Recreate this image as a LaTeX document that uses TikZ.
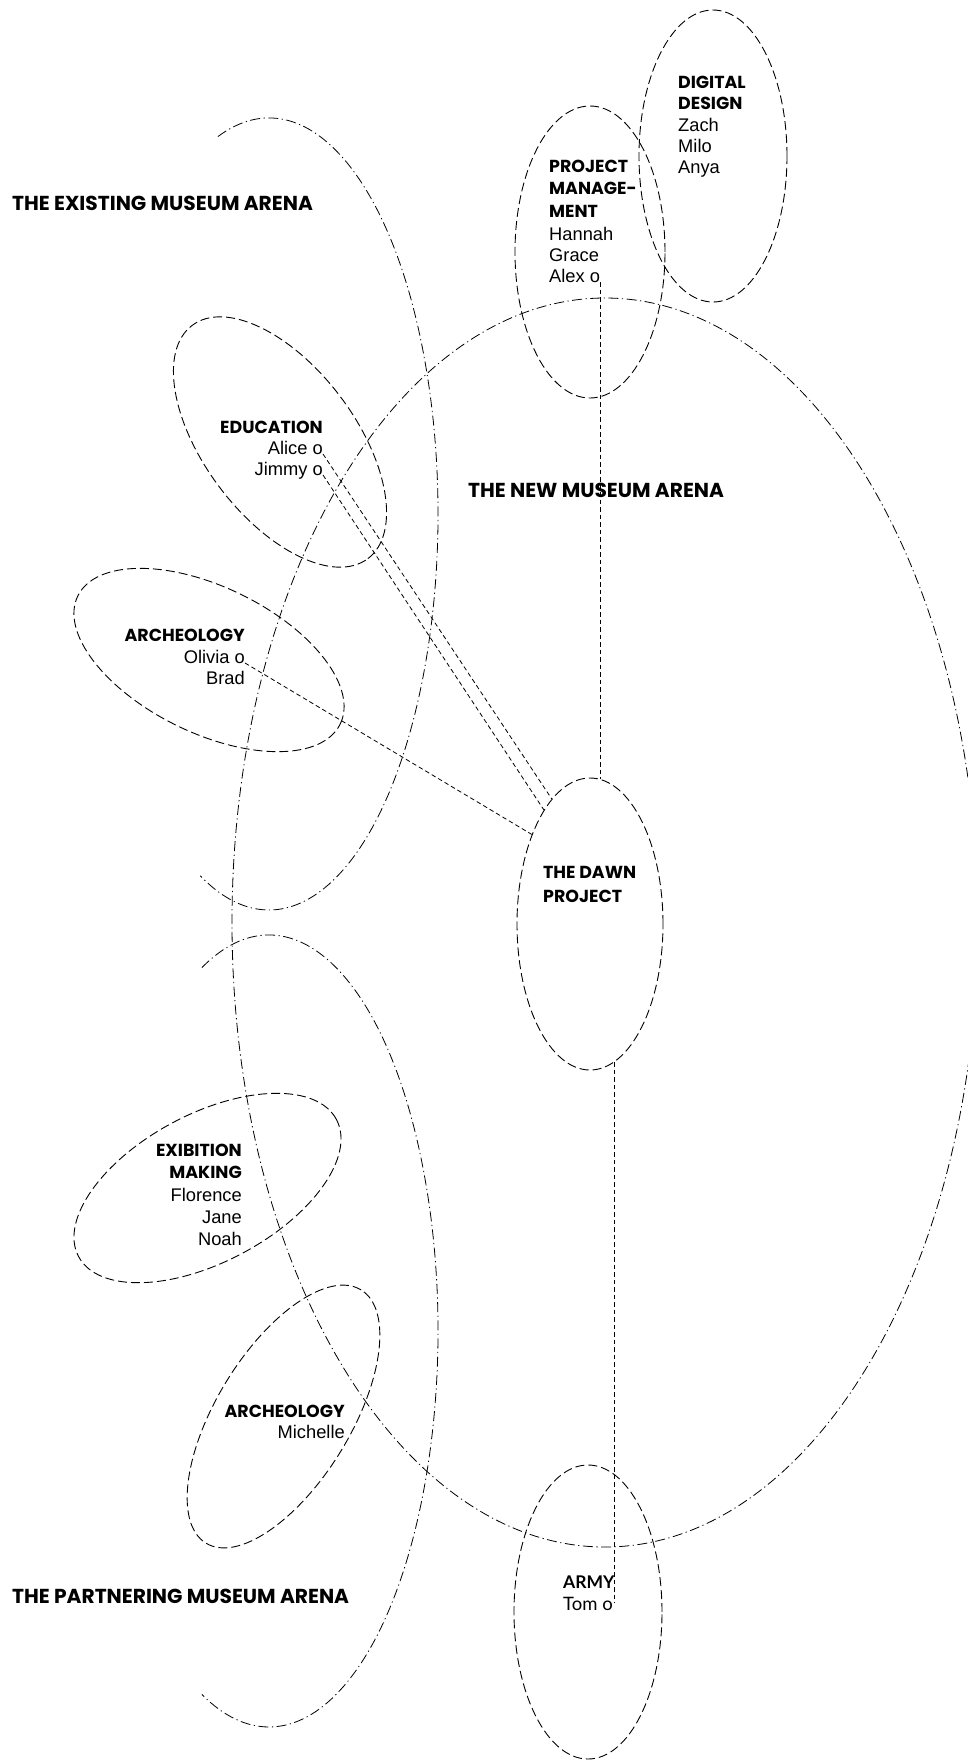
\documentclass[tikz,border=0pt]{standalone}
\usepackage{fontspec}
\usetikzlibrary{shapes.geometric}
\newfontfamily\gothic{Poppins}
\newfontfamily\arial{Liberation Sans}
\newfontfamily\gill{Lato}
\tikzset{
  grp/.style={ellipse, draw, dash pattern=on 9pt off 4pt, line width=0.9pt, inner sep=0pt},
  link/.style={draw, dash pattern=on 4.5pt off 3pt, line width=0.8pt},
  arena/.style={draw, dash pattern=on 10pt off 3.5pt on 1.2pt off 3.5pt, line width=0.8pt},
  head/.style={inner sep=0pt, font=\gothic\bfseries\fontsize{20.2}{20}\selectfont},
  lab/.style={inner sep=0pt, font=\gothic\bfseries\fontsize{17.4}{17}\selectfont},
  nm/.style={inner sep=0pt, font=\arial\fontsize{18.3}{18}\selectfont},
  gl/.style={inner sep=0pt, font=\gill\bfseries\fontsize{17.5}{17}\selectfont},
  gn/.style={inner sep=0pt, font=\gill\fontsize{18.5}{18}\selectfont},
}
\begin{document}
\begin{tikzpicture}[x=1pt,y=1pt]
\useasboundingbox (0,0) rectangle (967,-1762);
% arenas
\draw[arena] (605,-922.5) ellipse [x radius=373, y radius=624.5];
\draw[arena] (269,-514) ++(107.6:169 and 396) arc[start angle=107.6, end angle=-114, x radius=169, y radius=396];
\draw[arena] (269,-1331) ++(113.4:169 and 396) arc[start angle=113.4, end angle=-113.4, x radius=169, y radius=396];
% group ellipses
\node[grp, minimum width=148pt, minimum height=292pt] (digital) at (713,-156) {};
\node[grp, minimum width=150pt, minimum height=292pt] (pm) at (590,-252) {};
\node[grp, minimum width=146pt, minimum height=292pt] (dawn) at (590,-924) {};
\node[grp, minimum width=148pt, minimum height=294pt] (army) at (588,-1612) {};
\node[grp, rotate=-53, minimum width=292pt, minimum height=151pt] (edu) at (280,-442) {};
\node[grp, rotate=-26, minimum width=292pt, minimum height=146pt] (archA) at (209,-660) {};
\node[grp, rotate=28, minimum width=292pt, minimum height=148pt] (exib) at (207.5,-1188) {};
\node[grp, rotate=58.5, minimum width=297pt, minimum height=134pt] (archB) at (283.5,-1416.5) {};
% headings
\node[head, anchor=base west] (hexist) at (12,-210) {THE EXISTING MUSEUM ARENA};
\node[head, anchor=base west] (hnew) at (468,-497) {THE NEW MUSEUM ARENA};
\node[head, anchor=base west] (hpart) at (12,-1603) {THE PARTNERING MUSEUM ARENA};
% digital design
\node[lab, anchor=base west] (dd1) at (678,-88) {DIGITAL};
\node[lab, anchor=base west] (dd2) at (678,-109) {DESIGN};
\node[nm, anchor=base west] (zach) at (678,-131) {Zach};
\node[nm, anchor=base west] (milo) at (678,-152) {Milo};
\node[nm, anchor=base west] (anya) at (678,-173) {Anya};
% project management
\node[lab, anchor=base west] (pm1) at (549,-172) {PROJECT};
\node[lab, anchor=base west] (pm2) at (549,-194) {MANAGE-};
\node[lab, anchor=base west] (pm3) at (549,-217) {MENT};
\node[nm, anchor=base west] (hannah) at (549,-240) {Hannah};
\node[nm, anchor=base west] (grace) at (549,-261) {Grace};
\node[nm, anchor=base west] (alex) at (549,-282) {Alex o};
% education
\node[lab, anchor=base east] (ed1) at (323,-433) {EDUCATION};
\node[nm, anchor=base east] (alice) at (323,-454) {Alice o};
\node[nm, anchor=base east] (jimmy) at (323,-475) {Jimmy o};
% archeology top
\node[lab, anchor=base east] (ar1) at (245,-641) {ARCHEOLOGY};
\node[nm, anchor=base east] (olivia) at (245,-663) {Olivia o};
\node[nm, anchor=base east] (brad) at (245,-684) {Brad};
% exibition making
\node[lab, anchor=base east] (ex1) at (242,-1156) {EXIBITION};
\node[lab, anchor=base east] (ex2) at (242,-1178) {MAKING};
\node[nm, anchor=base east] (florence) at (242,-1201) {Florence};
\node[nm, anchor=base east] (jane) at (242,-1223) {Jane};
\node[nm, anchor=base east] (noah) at (242,-1245) {Noah};
% archeology bottom
\node[lab, anchor=base east] (ar2) at (345,-1417) {ARCHEOLOGY};
\node[nm, anchor=base east] (michelle) at (345,-1438) {Michelle};
% dawn
\node[lab, anchor=base west] (dw1) at (543,-878) {THE DAWN};
\node[lab, anchor=base west] (dw2) at (543,-902) {PROJECT};
% army
\node[gl, anchor=base west] (army1) at (563,-1588) {ARMY};
\node[gn, anchor=base west] (tom) at (563,-1610) {Tom o};
% connectors
\draw[link] (alice.base east) -- (dawn.107.5);
\draw[link] (jimmy.base east) -- (dawn.112.4);
\draw[link] (olivia.base east) -- (dawn.123.7);
\draw[link] (alex.base east) -- (alex.base east |- dawn.86);
\draw[link] (dawn.-80) -- (dawn.-80 |- tom.east);
\end{tikzpicture}
\end{document}
